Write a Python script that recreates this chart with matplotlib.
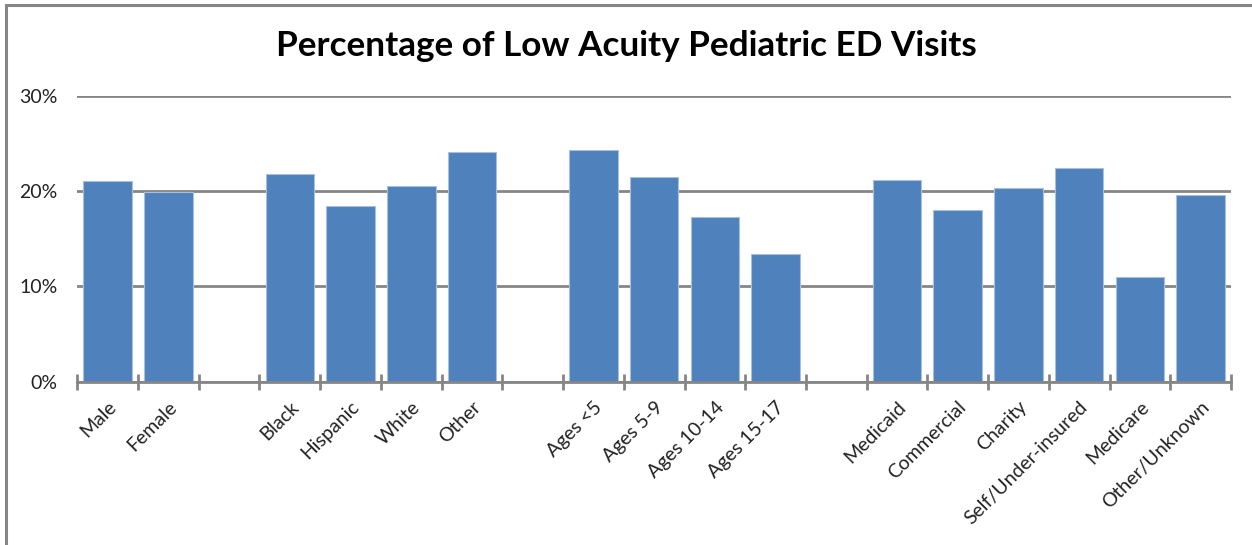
import matplotlib
matplotlib.use("Agg")
import matplotlib.pyplot as plt
from matplotlib.patches import Rectangle
from matplotlib.ticker import FuncFormatter, MultipleLocator
import numpy as np

# categories incl. blank spacer slots between groups
labels = ["Male", "Female", "",
          "Black", "Hispanic", "White", "Other", "",
          "Ages <5", "Ages 5-9", "Ages 10-14", "Ages 15-17", "",
          "Medicaid", "Commercial", "Charity", "Self/Under-insured", "Medicare", "Other/Unknown"]
values = [21.1, 19.9, np.nan,
          21.8, 18.45, 20.5, 24.1, np.nan,
          24.3, 21.5, 17.3, 13.45, np.nan,
          21.2, 18.0, 20.3, 22.4, 10.95, 19.65]

BAR_COLOR = "#4f81bd"
GRID_COLOR = "#868686"
FONT = "Lato"

fig = plt.figure(figsize=(12.52, 5.45), dpi=100)
fig.set_facecolor("w")

# chart frame (top + left edge visible)
fig.patches.append(Rectangle((6 / 1252, -0.1), 1.2, 1.1 - 5 / 545, transform=fig.transFigure,
                             fill=False, edgecolor=GRID_COLOR, linewidth=2.2))

ax = fig.add_axes([77.3 / 1252, 1 - 381.7 / 545, (1231 - 77.3) / 1252, (381.7 - 96) / 545])

x = np.arange(len(labels))
vals = np.array(values) / 100
ax.bar(x, np.nan_to_num(vals), width=0.8, color=BAR_COLOR, edgecolor="#a7c0de", linewidth=0.8, zorder=3)

ax.set_xlim(-0.5, len(labels) - 0.5)
ax.set_ylim(0, 0.30)
ax.yaxis.set_major_locator(MultipleLocator(0.10))
ax.yaxis.set_major_formatter(FuncFormatter(lambda v, p: f"{v * 100:.0f}%"))
ax.grid(axis="y", color=GRID_COLOR, linewidth=2, zorder=0)

for s in ["top", "right", "left"]:
    ax.spines[s].set_visible(False)
ax.spines["bottom"].set_color(GRID_COLOR)
ax.spines["bottom"].set_linewidth(2)
ax.spines["bottom"].set_zorder(4)

ax.tick_params(axis="y", length=0, pad=14, labelsize=14, labelcolor="#222222")
for t in ax.get_yticklabels():
    t.set_fontfamily(FONT)

# category labels at centers, tick marks at boundaries
ax.set_xticks(x)
ax.set_xticklabels(labels, rotation=45, ha="right", rotation_mode="anchor",
                   fontsize=14, family=FONT, color="#222222")
ax.tick_params(axis="x", which="major", length=0, pad=12)
ax.set_xticks(np.arange(-0.5, len(labels)), minor=True)
ax.tick_params(axis="x", which="minor", direction="inout", length=12, width=2, color=GRID_COLOR)

fig.text(0.5, 1 - 46 / 545, "Percentage of Low Acuity Pediatric ED Visits",
         ha="center", va="center", fontsize=25.3, fontweight="bold", family=FONT)

fig.savefig("out.png", dpi=100, facecolor="w")
